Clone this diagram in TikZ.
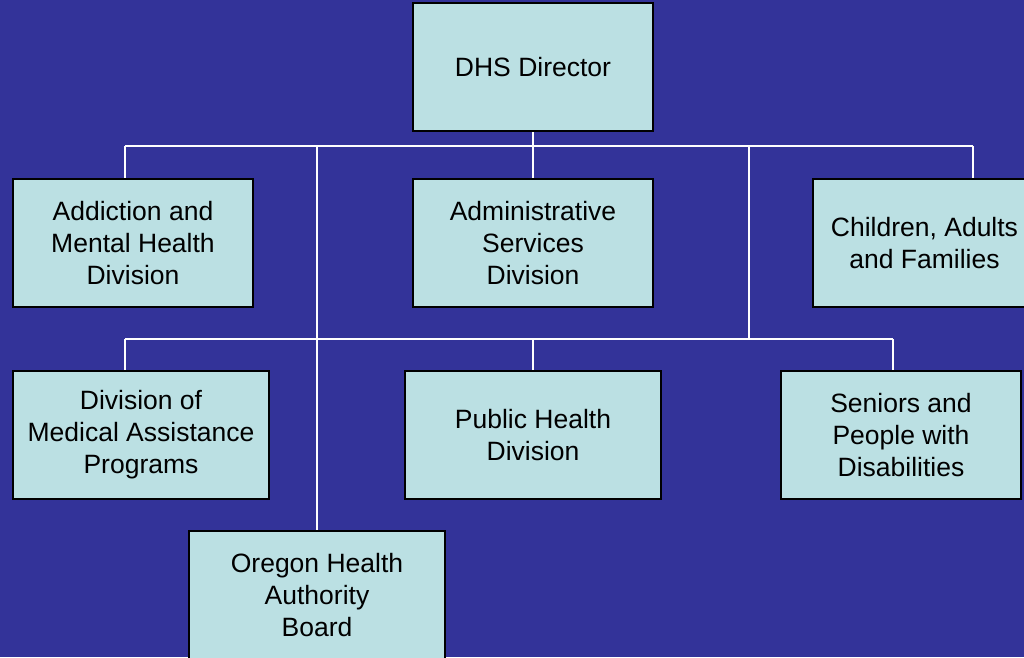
\documentclass[tikz,border=0pt]{standalone}
\usepackage{fontspec}
\setmainfont{Liberation Sans}
\definecolor{bgblue}{RGB}{51,51,153}
\definecolor{boxfill}{RGB}{187,224,227}
\pgfdeclarelayer{bg}
\pgfsetlayers{bg,main}
\tikzset{
  orgbox/.style={draw=black, line width=2pt, fill=boxfill, rectangle, inner sep=0pt,
    minimum height=128pt, align=center, text=black,
    font=\fontsize{26.5}{32}\selectfont},
  narrow/.style={minimum width=240pt},
  wide/.style={minimum width=256pt},
  conn/.style={draw=white, line width=1.5pt}
}
\begin{document}
\begin{tikzpicture}[x=1pt,y=-1pt]
\clip (0,0) rectangle (1024,657);
\node[orgbox,narrow] (dhs) at (533,67) {DHS Director};
\node[orgbox,narrow] (amh) at (133,243) {Addiction and\\Mental Health\\Division};
\node[orgbox,narrow] (asd) at (533,243) {Administrative\\Services\\Division};
\node[orgbox,narrow] (caf) at (933,243) {\hspace*{-17pt}Children, Adults\\\hspace*{-17pt}and Families};
\node[orgbox,wide] (dmap) at (141,435) {Division of\\Medical Assistance\\Programs};
\node[orgbox,wide] (phd) at (533,435) {Public Health\\Division};
\node[orgbox,narrow] (spd) at (901,435) {Seniors and\\People with\\Disabilities};
\node[orgbox,wide] (ohab) at (317,595) {Oregon Health\\Authority\\Board};
\begin{pgfonlayer}{bg}
\fill[bgblue] (0,0) rectangle (1024,657);
\coordinate (j1) at (125,146);
\coordinate (j2) at (973,146);
\coordinate (j3) at (317,146);
\coordinate (j4) at (749,146);
\coordinate (k1) at (125,339);
\coordinate (k2) at (893,339);
\coordinate (k3) at (749,339);
\draw[conn] (dhs.south) -- (asd.north);
\draw[conn] (j1) -- (j2);
\draw[conn] (j1) -- (j1 |- amh.north);
\draw[conn] (j2) -- (j2 |- caf.north);
\draw[conn] (j3) -- (j3 |- ohab.north);
\draw[conn] (j4) -- (k3);
\draw[conn] (k1) -- (k2);
\draw[conn] (k1) -- (k1 |- dmap.north);
\draw[conn] (phd.north |- k1) -- (phd.north);
\draw[conn] (k2) -- (k2 |- spd.north);
\end{pgfonlayer}
\end{tikzpicture}
\end{document}
